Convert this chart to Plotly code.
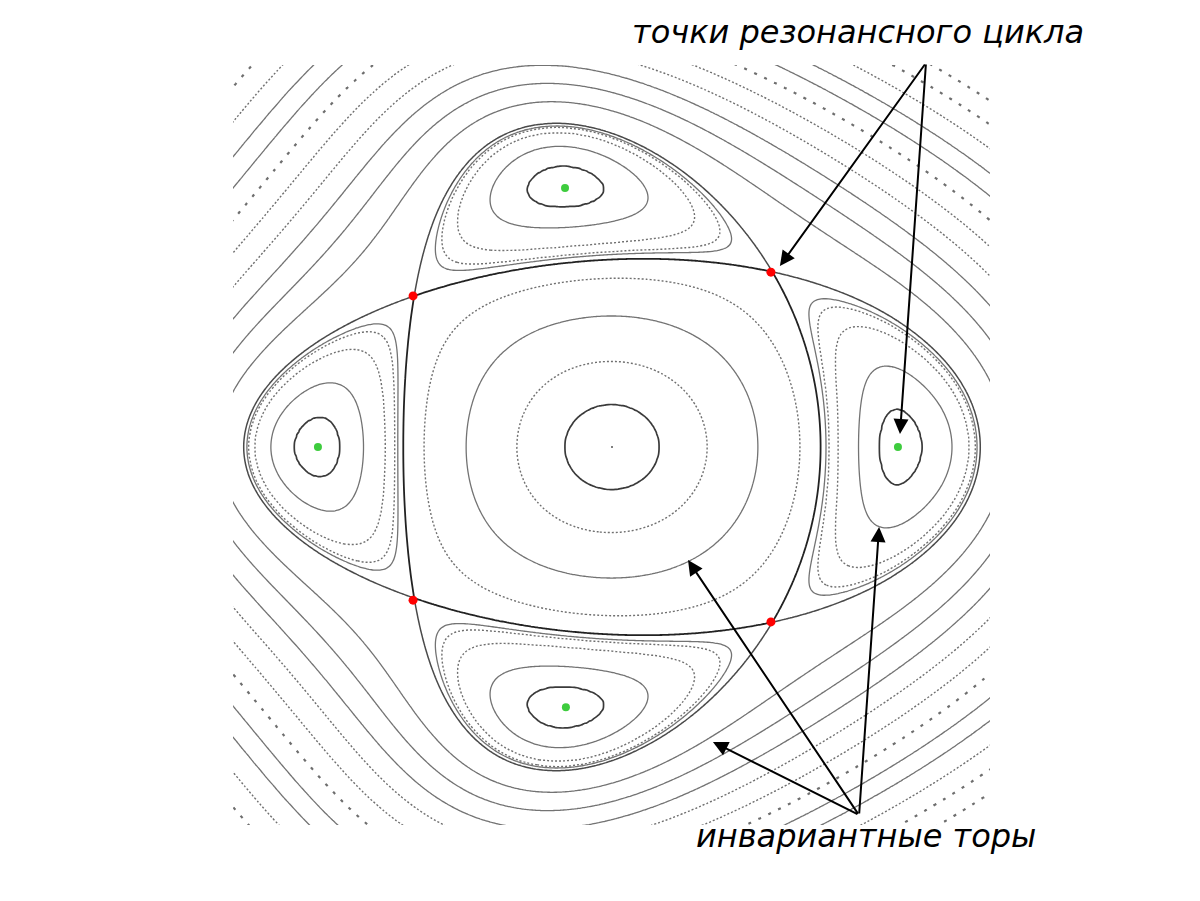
import numpy as np
import plotly.graph_objects as go

# ---------------- data (phase-space units) ----------------
# resonant 4-cycle: hyperbolic points (red) and elliptic points (green)
hyper_q = [-0.686, 0.548, -0.686, 0.548]
hyper_p = [0.521, 0.603, -0.528, -0.603]
ellip_q = [-0.162, -1.014, 0.986, -0.159]
ellip_p = [0.893, 0.0, 0.0, -0.897]
center_q = [0.0]
center_p = [0.0]

# invariant tori, each given by the point(s) it passes through
center_tori_q = [0.162, 0.328, 0.503, 0.648]          # crossing p = 0, right of centre
center_tori_style = ["dark", "fine", "solid", "fine"]
island_tori_q = [0.924, 0.848, 0.734]                 # right island, inner side, p = 0
island_top_q = -0.162                                 # top island, lower side
island_tori_p = [0.828, 0.759, 0.655]
island_tori_style = ["dark", "solid", "solid"]
island_edge_q = [-1.232, -1.252]                      # near-separatrix tori, left island, p = 0
island_edge_style = ["fine", "fine"]
outer_edge_q = -1.307                                 # tori crossing the left border
outer_tori_p = [0.19, 0.324, 0.441, 0.552, 0.669, 0.783, 0.893, 1.0, 1.121, 1.241, 1.36]
outer_tori_style = ["solid", "solid", "solid", "fine", "fine", "big", "solid", "solid", "fine", "big", "big"]

label_top = "точки резонансного цикла"
label_bottom = "инвариантные торы"

# ---------------- model of the section (level sets of an integral) ----------------
BEND = 0.203
YSCALE, YTILT = 1.0985, 0.1204
BUMP_L, BUMP_R, BUMP_Y, BUMPW, BUMPS = 0.0182, 0.0476, 0.0205, 0.25, 0.22
A1, B1 = 1.27, 0.712      # horizontal separatrix loop
B2, A2 = 0.72, 1.259      # vertical separatrix loop


def fields(q, p):
    X0 = q + BEND * p ** 2
    Y0 = YSCALE * p * (1 - YTILT * q)
    amp = np.where(X0 > 0, BUMP_R, BUMP_L)
    X = X0 * (1 + amp * np.exp(-((X0 ** 2 - 1) / BUMPW) ** 2 - (Y0 / BUMPS) ** 2))
    Y = Y0 * (1 + BUMP_Y * np.exp(-((Y0 ** 2 - 1) / BUMPW) ** 2 - (X0 / BUMPS) ** 2))
    e1 = X ** 2 / A1 ** 2 + Y ** 2 / B1 ** 2 - 1
    e2 = X ** 2 / B2 ** 2 + Y ** 2 / A2 ** 2 - 1
    return e1, e2, e1 * e2


def level(q, p):
    return float(fields(np.float64(q), np.float64(p))[2])


XR = [-1.3069, 1.3034]
YR = [-1.3034, 1.3172]
grid_q = np.linspace(-1.33, 1.33, 320)
grid_p = np.linspace(-1.33, 1.34, 320)
Q, P = np.meshgrid(grid_q, grid_p)
E1, E2, H = fields(Q, P)
inside = (E1 < 0) | (E2 < 0)
inner_field = np.where(inside, H, 0.0)
outer_field = np.where(inside, 0.0, H)

STYLE = {
    "dark": ("#3a3a3a", 1.7, "solid"),
    "solid": ("#737373", 1.3, "solid"),
    "fine": ("#707070", 1.4, "2px,2px"),
    "big": ("#6e6e6e", 2.2, "3px,8px"),
}


def monotone_map(x, xk, yk):
    """smooth monotone (PCHIP) map of field values onto contour indices"""
    h = np.diff(xk)
    delta = np.diff(yk) / h
    d = np.empty_like(xk)
    d[0], d[-1] = delta[0], delta[-1]
    for k in range(1, len(xk) - 1):
        w1 = 2 * h[k] + h[k - 1]
        w2 = h[k] + 2 * h[k - 1]
        d[k] = (w1 + w2) / (w1 / delta[k - 1] + w2 / delta[k])
    i = np.clip(np.searchsorted(xk, x) - 1, 0, len(xk) - 2)
    t = np.clip((x - xk[i]) / h[i], 0, 1)
    return ((2 * t ** 3 - 3 * t ** 2 + 1) * yk[i] + (t ** 3 - 2 * t ** 2 + t) * h[i] * d[i]
            + (-2 * t ** 3 + 3 * t ** 2) * yk[i + 1] + (t ** 3 - t ** 2) * h[i] * d[i + 1])


def contour_trace(field, levels, color, width, dash):
    L = np.sort(np.asarray(levels, dtype=float))
    n = len(L)
    lo = min(L[0] - 1e-3, float(field.min()) - 1e-3)
    hi = max(L[-1] + 1e-3, float(field.max()) + 1e-3)
    xk = np.concatenate([[lo], L, [hi]])
    yk = np.arange(-1, n + 1, dtype=float)
    z = monotone_map(field, xk, yk).astype(np.float32)
    return go.Contour(
        x=grid_q.astype(np.float32), y=grid_p.astype(np.float32), z=z,
        autocontour=False, zmin=0, zmax=max(n - 1, 1),
        contours=dict(start=0, end=n - 1, size=1, coloring="lines"),
        colorscale=[[0, color], [1, color]], showscale=False,
        line=dict(width=width, dash=dash, smoothing=1), hoverinfo="skip",
    )


fig = go.Figure()

# tori inside the separatrix (centre + islands)
inner_levels = {}
for q, s in zip(center_tori_q, center_tori_style):
    inner_levels.setdefault(s, []).append(level(q, 0.0))
for q, p, s in zip(island_tori_q, island_tori_p, island_tori_style):
    inner_levels.setdefault(s, []).append(0.5 * (level(q, 0.0) + level(island_top_q, p)))
for q, s in zip(island_edge_q, island_edge_style):
    inner_levels.setdefault(s, []).append(level(q, 0.0))
for s, lv in inner_levels.items():
    c, w, d = STYLE[s]
    fig.add_trace(contour_trace(inner_field, lv, c, w, d))

# tori outside the separatrix
outer_levels = {}
for p, s in zip(outer_tori_p, outer_tori_style):
    outer_levels.setdefault(s, []).append(level(outer_edge_q, p))
for s, lv in outer_levels.items():
    c, w, d = STYLE[s]
    fig.add_trace(contour_trace(outer_field, lv, c, w, d))

# separatrices: outer arcs (lighter) and arcs bounding the central region (dark)
fig.add_trace(contour_trace(np.minimum(E1, E2), [0.0], "#4a4a4a", 1.5, "solid"))
fig.add_trace(contour_trace(np.maximum(E1, E2), [0.0], "#222222", 1.8, "solid"))

# fixed points
fig.add_trace(go.Scatter(x=center_q, y=center_p, mode="markers",
                         marker=dict(size=2, color="#555"), hoverinfo="skip"))
fig.add_trace(go.Scatter(x=hyper_q, y=hyper_p, mode="markers",
                         marker=dict(size=9, color="#ff0000"), hoverinfo="skip"))
fig.add_trace(go.Scatter(x=ellip_q, y=ellip_p, mode="markers",
                         marker=dict(size=8, color="#3ecc3e"), hoverinfo="skip"))

# arrows: head (data) and tail offset (pixels)
arrow_heads_q = [0.579, 0.993, 0.262, 0.348, 0.921]
arrow_heads_p = [0.624, 0.045, -0.390, -1.017, -0.276]
arrow_tail_dx = [146, 26, 171, 146, -20]
arrow_tail_dy = [-203, -371, 255, 73, 288]
for hq, hp, dx, dy in zip(arrow_heads_q, arrow_heads_p, arrow_tail_dx, arrow_tail_dy):
    fig.add_annotation(x=hq, y=hp, xref="x", yref="y", ax=dx, ay=dy,
                       axref="pixel", ayref="pixel", text="", showarrow=True,
                       arrowhead=2, arrowsize=1.5, arrowwidth=2, arrowcolor="black")

fig.add_annotation(x=0.825, y=1.044, xref="paper", yref="paper", text="<i>" + label_top + "</i>",
                   showarrow=False, xanchor="center", yanchor="middle",
                   font=dict(family="DejaVu Sans", size=32, color="black"))
fig.add_annotation(x=0.836, y=-0.015, xref="paper", yref="paper", text="<i>" + label_bottom + "</i>",
                   showarrow=False, xanchor="center", yanchor="middle",
                   font=dict(family="DejaVu Sans", size=32, color="black"))

fig.update_layout(
    width=1200, height=901, autosize=False,
    margin=dict(l=225, r=218, t=57, b=84),
    paper_bgcolor="white", plot_bgcolor="white", showlegend=False,
    xaxis=dict(range=XR, visible=False, showgrid=False, zeroline=False),
    yaxis=dict(range=YR, visible=False, showgrid=False, zeroline=False),
)
fig.write_html("out.html")
